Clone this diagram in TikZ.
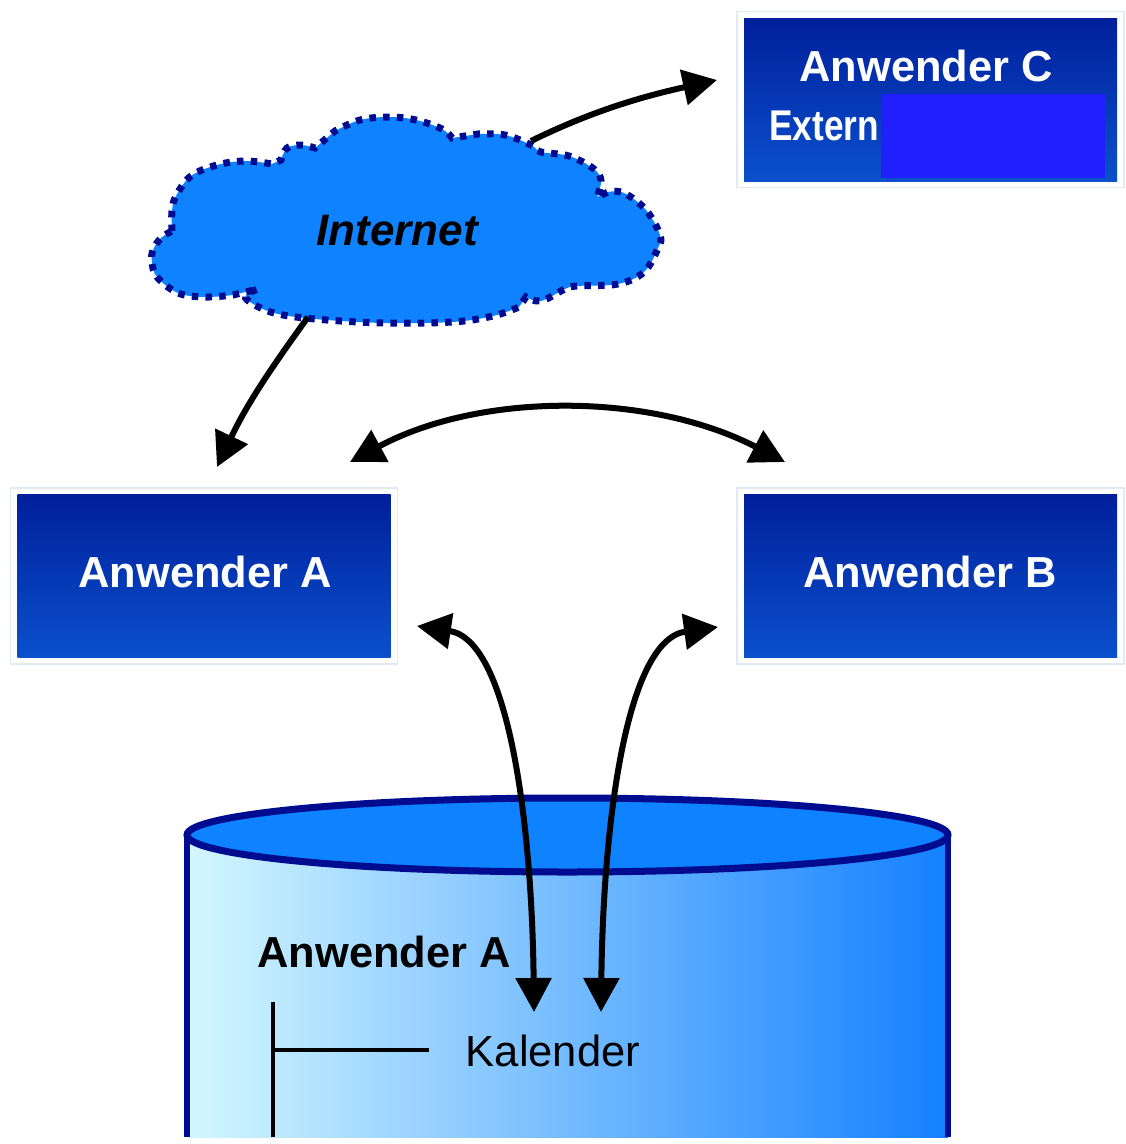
\documentclass[tikz,border=0pt]{standalone}
\usepackage{fontspec}
\setmainfont{Liberation Sans}
\usetikzlibrary{arrows.meta}
\definecolor{boxtop}{HTML}{001F9C}
\definecolor{boxbot}{HTML}{0B50CC}
\definecolor{boxedge}{HTML}{E2E9F3}
\definecolor{cloudfill}{HTML}{0F82FF}
\definecolor{darkblue}{HTML}{000C90}
\definecolor{patchblue}{HTML}{2020FF}
\definecolor{cylleft}{HTML}{D4F7FF}
\definecolor{cylright}{HTML}{1480FF}
\tikzset{
  outerbox/.style={draw=boxedge,line width=1.5pt,fill=white,minimum width=387pt,minimum height=176pt,inner sep=0pt},
  innerbox/.style={top color=boxtop,bottom color=boxbot,draw=none,minimum width=373pt,minimum height=163pt,inner sep=0pt},
  boxlabel/.style={anchor=base,text=white,font=\fontsize{43.4}{48}\selectfont\bfseries,inner sep=0pt},
  arrowline/.style={line width=6pt,black,line cap=butt},
  treeline/.style={line width=4pt,black}
}
\begin{document}
\begin{tikzpicture}[x=1pt,y=-1pt]
\useasboundingbox (0,0) rectangle (1126,1144);
\fill[white] (0,0) rectangle (1126,1144);
% cylinder
\shade[left color=cylleft,right color=cylright] (187,835) -- (187,1137) -- (948,1137) -- (948,835) -- cycle;
\draw[line width=6.5pt,darkblue] (187,1137) -- (187,835);
\draw[line width=6.5pt,darkblue] (948,1137) -- (948,835);
\filldraw[line width=7pt,draw=darkblue,fill=cloudfill] (567.5,835) ellipse [x radius=380.5,y radius=37];
% boxes
\node[outerbox] (cOuter) at (930.5,99.5) {};
\node[innerbox] (cInner) at (930.5,99.5) {};
\node[outerbox] (aOuter) at (204,576) {};
\node[innerbox] (aInner) at (204,576) {};
\node[outerbox] (bOuter) at (930.5,576) {};
\node[innerbox] (bInner) at (930.5,576) {};
\node[fill=patchblue,minimum width=224pt,minimum height=84pt,inner sep=0pt] (patch) at (993,136) {};
\node[boxlabel] (labelC) at (926,81) {Anwender C};
\node[boxlabel,xscale=.82,font=\fontsize{43}{48}\selectfont\bfseries] (labelExt) at (824,140) {Extern};
\node[boxlabel] (labelA) at (205,587) {Anwender A};
\node[boxlabel] (labelB) at (930,587) {Anwender B};
% cloud
\fill[cloudfill]
  plot[smooth,tension=.6] coordinates {(172,231)(172,211)(176,196)(191,176)(217,165)(245,161)(272,164)}
  -- plot[smooth,tension=.6] coordinates {(281,160)(287,148)(301,145)(315,148)}
  -- plot[smooth,tension=.6] coordinates {(335,131)(360,120)(389,117)(416,120)(442,129)(452,138)}
  -- plot[smooth,tension=.6] coordinates {(478,134)(505,135)(531,145)(541,152)(569,156)(594,169)(601,181)(597,197)}
  -- plot[smooth,tension=.6] coordinates {(608,192)(624,193)(646,210)(660,235)(658,248)(644,272)(618,284)(577,286)(565,289)(541,301)(526,297)}
  -- plot[smooth,tension=.6] coordinates {(519,307)(493,316)(452,322)(384,323)(315,319)(274,313)(250,302)(246,295)(258,289)}
  -- plot[smooth,tension=.6] coordinates {(233,295)(205,297)(178,293)(157,277)(152,262)(153,250)(161,238)(172,231)}
  -- cycle;
\draw[line width=7pt,draw=darkblue,dash pattern=on 6.5pt off 7.2pt,line join=miter]
  plot[smooth,tension=.6] coordinates {(172,231)(172,211)(176,196)(191,176)(217,165)(245,161)(272,164)}
  -- plot[smooth,tension=.6] coordinates {(281,160)(287,148)(301,145)(315,148)}
  -- plot[smooth,tension=.6] coordinates {(335,131)(360,120)(389,117)(416,120)(442,129)(452,138)}
  -- plot[smooth,tension=.6] coordinates {(478,134)(505,135)(531,145)(541,152)(569,156)(594,169)(601,181)(597,197)}
  -- plot[smooth,tension=.6] coordinates {(608,192)(624,193)(646,210)(660,235)(658,248)(644,272)(618,284)(577,286)(565,289)(541,301)(526,297)}
  -- plot[smooth,tension=.6] coordinates {(519,307)(493,316)(452,322)(384,323)(315,319)(274,313)(250,302)(246,295)(258,289)}
  -- plot[smooth,tension=.6] coordinates {(233,295)(205,297)(178,293)(157,277)(152,262)(153,250)(161,238)(172,231)}
  -- cycle;
\node[anchor=base,inner sep=0pt,font=\fontsize{44}{48}\selectfont\bfseries\itshape] (cloud) at (397,245) {Internet};
% cylinder labels
\node[anchor=base,inner sep=0pt,font=\fontsize{43.4}{48}\selectfont\bfseries] (cylLabel) at (384,967) {Anwender A};
\node[anchor=base,inner sep=0pt,font=\fontsize{43.5}{48}\selectfont] (kal) at (553,1066) {Kalender};
\coordinate (treeTop) at (273,1002);
\coordinate (treeBot) at (273,1137);
\coordinate (treeJoin) at (273,1050);
\coordinate (treeEnd) at (429,1050);
\draw[treeline] (treeTop) -- (treeBot);
\draw[treeline] (treeJoin) -- (treeEnd);
% connectors
\coordinate (cloudNE) at (531,141);
\coordinate (toC) at (717,80);
\coordinate (cloudSW) at (308,317);
\coordinate (toA) at (217,467);
\coordinate (abL) at (350,462);
\coordinate (abR) at (785,462);
\coordinate (aSide) at (417,626);
\coordinate (bSide) at (718,627);
\coordinate (kalL) at (534,1012);
\coordinate (kalR) at (601,1012);
\draw[arrowline,-{Triangle[length=34pt,width=35pt]}] (cloudNE) .. controls (590,112) and (640,97) .. (toC);
\draw[arrowline,-{Triangle[length=34pt,width=35pt]}] (cloudSW) .. controls (272,367) and (248,402) .. (toA);
\draw[arrowline,{Triangle[length=34pt,width=35pt]}-{Triangle[length=34pt,width=35pt]}] (abL) .. controls (480,392) and (650,392) .. (abR);
\draw[arrowline,{Triangle[length=34pt,width=35pt]}-{Triangle[length=34pt,width=35pt]}] (aSide) .. controls (510,640) and (532,830) .. (kalL);
\draw[arrowline,{Triangle[length=34pt,width=35pt]}-{Triangle[length=34pt,width=35pt]}] (bSide) .. controls (625,640) and (603,830) .. (kalR);
\end{tikzpicture}
\end{document}
